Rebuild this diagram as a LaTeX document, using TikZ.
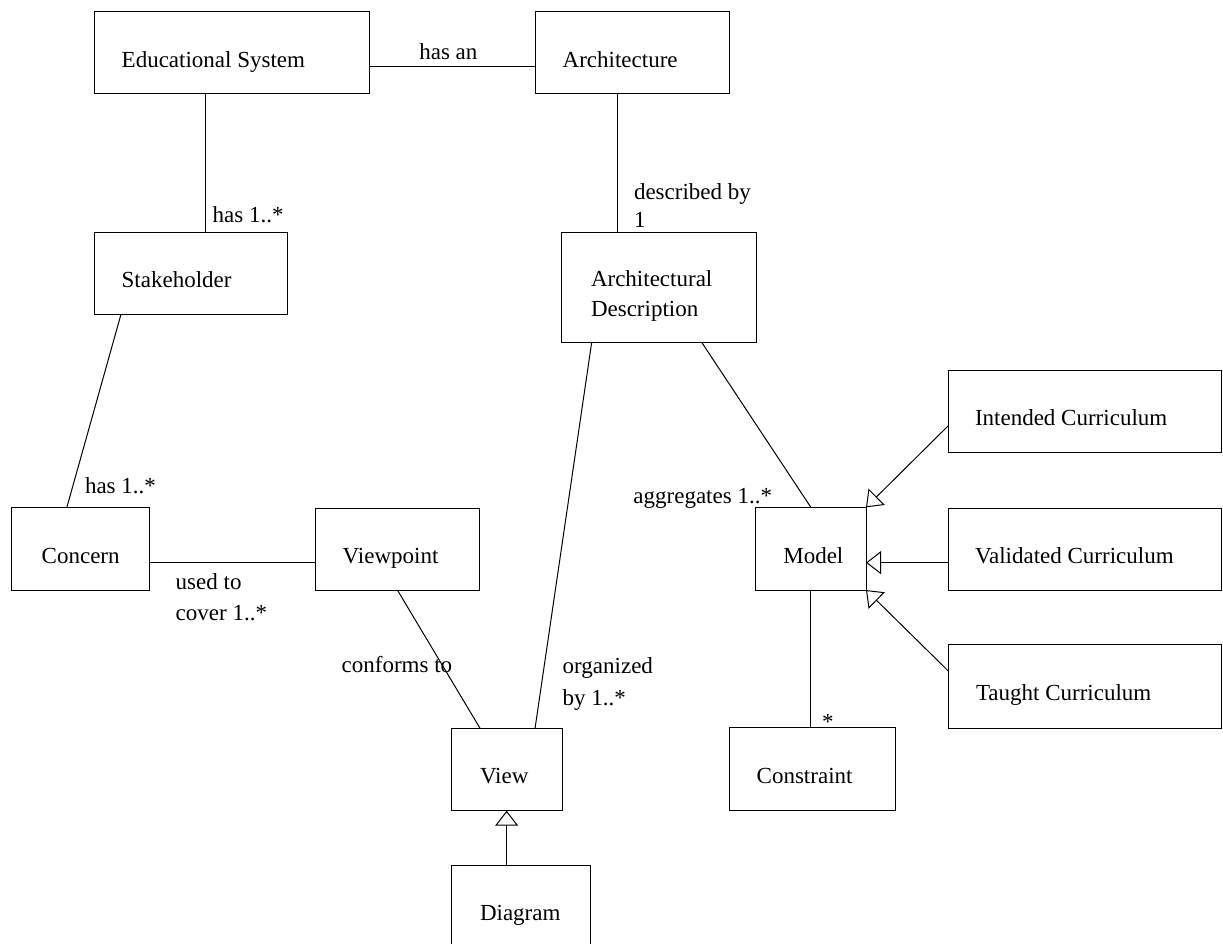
\documentclass[tikz,border=0pt]{standalone}
\usepackage{fontspec}
\setmainfont{Liberation Serif}
\usetikzlibrary{arrows.meta,calc}
\begin{document}
\begin{tikzpicture}[x=1pt,y=-1pt,
  box/.style={draw, line width=1pt, rectangle, inner sep=0pt, outer sep=0pt, anchor=north west},
  txt/.style={anchor=base west, inner sep=0pt, outer sep=0pt, font=\fontsize{23}{28}\selectfont},
  lnk/.style={line width=1pt},
  gen/.style={line width=1pt, -{Triangle[open,length=15pt,width=23pt]}}]
\useasboundingbox[fill=white] (0,0) rectangle (1223,944);

% boxes
\node[box, minimum width=275pt,   minimum height=82.3pt] (edu)        at (94.3,11.7)  {};
\node[box, minimum width=193.7pt, minimum height=82.3pt] (arch)       at (535.3,11.7) {};
\node[box, minimum width=193.4pt, minimum height=82pt]   (stake)      at (94.3,232.3) {};
\node[box, minimum width=195pt,   minimum height=110pt]  (archdesc)   at (561.7,232.3) {};
\node[box, minimum width=137.3pt, minimum height=82.3pt] (concern)    at (11.7,507.7) {};
\node[box, minimum width=164.7pt, minimum height=81.7pt] (viewpoint)  at (315,508.3) {};
\node[box, minimum width=110.3pt, minimum height=82.7pt] (model)      at (755.7,507.3) {};
\node[box, minimum width=273pt,   minimum height=82pt]   (intended)   at (948.3,370) {};
\node[box, minimum width=273pt,   minimum height=81.7pt] (validated)  at (948.3,508.3) {};
\node[box, minimum width=273pt,   minimum height=84.4pt] (taught)     at (948.3,644.3) {};
\node[box, minimum width=111.3pt, minimum height=82.4pt] (view)       at (451,728.3) {};
\node[box, minimum width=165.7pt, minimum height=83pt]   (constraint) at (729.3,727.7) {};
\node[box, minimum width=138.3pt, minimum height=82pt]   (diagram)    at (451.7,865) {};

% box texts
\node[txt] (edut)   at ($(edu.north west)+(27.4,56)$)       {Educational System};
\node[txt] (archt)  at ($(arch.north west)+(27.4,56)$)      {Architecture};
\node[txt] (staket) at ($(stake.north west)+(27.4,55.2)$)   {Stakeholder};
\node[txt] (adt1)   at ($(archdesc.north west)+(29.3,54.4)$) {Architectural};
\node[txt] (adt2)   at ($(archdesc.north west)+(29.3,84.4)$) {Description};
\node[txt] (conct)  at ($(concern.north west)+(30,55.6)$)   {Concern};
\node[txt] (vpt)    at ($(viewpoint.north west)+(27.7,55.5)$) {Viewpoint};
\node[txt] (modt)   at ($(model.north west)+(27.6,56)$)     {Model};
\node[txt] (intt)   at ($(intended.north west)+(26.7,55.3)$) {Intended Curriculum};
\node[txt] (valt)   at ($(validated.north west)+(26.7,55)$) {Validated Curriculum};
\node[txt] (taut)   at ($(taught.north west)+(27.7,55.7)$)  {Taught Curriculum};
\node[txt] (viewt)  at ($(view.north west)+(29,55.2)$)      {View};
\node[txt] (cont)   at ($(constraint.north west)+(27.4,55.8)$) {Constraint};
\node[txt] (diat)   at ($(diagram.north west)+(28.3,55.5)$) {Diagram};

% associations
\draw[lnk] ([yshift=-14pt]edu.east) -- ([yshift=-14pt]arch.west);
\draw[lnk] ([xshift=14pt]stake.north) -- ([xshift=14pt]stake.north |- edu.south);
\draw[lnk] ([xshift=-41.5pt]archdesc.north) -- ([xshift=-41.5pt]archdesc.north |- arch.south);
\draw[lnk] ([xshift=-70pt]stake.south) -- ([xshift=-13.6pt]concern.north);
\draw[lnk] ([yshift=-13.5pt]concern.east) -- ([yshift=-13.5pt]concern.east -| viewpoint.west);
\draw[lnk] (viewpoint.south) -- ([xshift=-26.6pt]view.north);
\draw[lnk] ([xshift=-67.5pt]archdesc.south) -- ([xshift=28.4pt]view.north);
\draw[lnk] ([xshift=42.5pt]archdesc.south) -- (model.north);
\draw[lnk] (model.south) -- (model.south |- constraint.north);

% generalizations
\draw[gen] ([yshift=-14.7pt]intended.west) -- (model.north east);
\draw[gen] ([yshift=-13.5pt]validated.west) -- ([yshift=-13.5pt]validated.west -| model.east);
\draw[gen] ([yshift=15.5pt]taught.west) -- (model.south east);
\draw[gen] (view.south |- diagram.north) -- (view.south);

% connector labels
\node[txt] (l1)  at (419.3,60)    {has an};
\node[txt] (l2)  at (212.7,222.7) {has 1..*};
\node[txt] (l3a) at (634,199.3)   {described by};
\node[txt] (l3b) at (634,227.7)   {1};
\node[txt] (l4)  at (85,493.3)    {has 1..*};
\node[txt] (l5a) at (175.7,589.3) {used to};
\node[txt] (l5b) at (175.7,620.7) {cover 1..*};
\node[txt] (l6)  at (341.7,672.7) {conforms to};
\node[txt] (l7a) at (562.7,673.3) {organized};
\node[txt] (l7b) at (562.7,705)   {by 1..*};
\node[txt, anchor=base east] (l8) at (772,503.3) {aggregates 1..*};
\node[txt] (l9)  at (822,729.5)   {*};
\end{tikzpicture}
\end{document}
